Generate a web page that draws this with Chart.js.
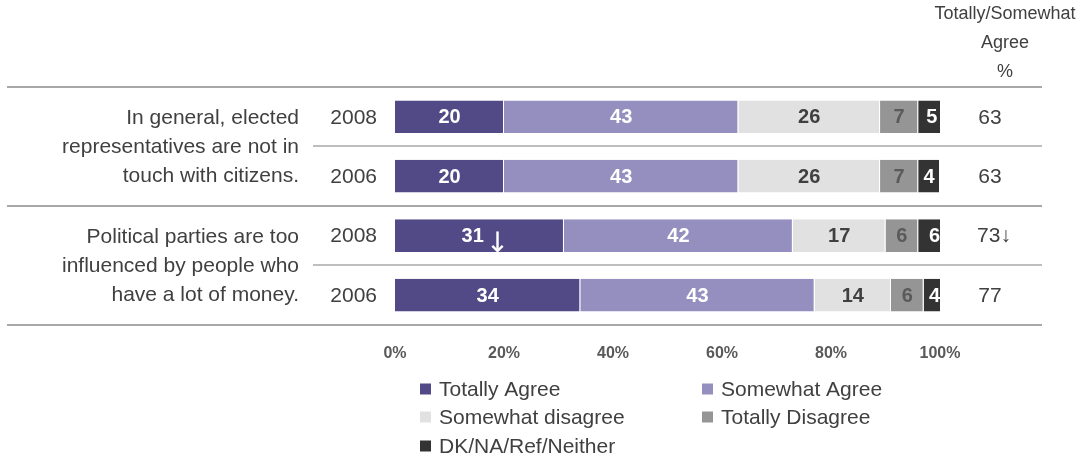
<!DOCTYPE html>
<html>
<head>
<meta charset="utf-8">
<script src="https://cdn.jsdelivr.net/npm/chart.js@4.4.1/dist/chart.umd.min.js"></script>
<style>
  html, body { margin: 0; padding: 0; background: #ffffff; }
  #wrap { width: 1081px; height: 457px; position: relative; }
</style>
</head>
<body>
<div id="wrap"><canvas id="c" width="1081" height="457"></canvas></div>
<script>
// ---------- data ----------
const rowLabels = ["2008", "2006", "2008", "2006"];
const questionLines = [
  ["In general, elected", "representatives are not in", "touch with citizens."],
  ["Political parties are too", "influenced by people who", "have a lot of money."]
];
const seriesNames = ["Totally Agree", "Somewhat Agree", "Somewhat disagree", "Totally Disagree", "DK/NA/Ref/Neither"];
const totallyAgree     = [20, 20, 31, 34];
const somewhatAgree    = [43, 43, 42, 43];
const somewhatDisagree = [26, 26, 17, 14];
const totallyDisagree  = [7, 7, 6, 6];
const dkNaRef          = [5, 4, 6, 4];
const agreeTotals      = [63, 63, 73, 77];
const totalMarks       = ["", "", "↓", ""];
const totallyAgreeMarks = ["", "", "↓", ""];
const tickValues = [0, 20, 40, 60, 80, 100];
const tickLabels = ["0%", "20%", "40%", "60%", "80%", "100%"];
const headerLines = ["Totally/Somewhat", "Agree", "%"];

// ---------- styles ----------
const FONT = '"Liberation Sans", Arial, Helvetica, sans-serif';
const seriesColors = ["#524a86", "#958fbf", "#e1e1e1", "#959595", "#333333"];
const labelColors  = ["#ffffff", "#ffffff", "#404040", "#5a5a5a", "#ffffff"];
const TEXT = "#404040";
const LINE = "#a8a8a8";

const seriesValues = [totallyAgree, somewhatAgree, somewhatDisagree, totallyDisagree, dkNaRef];

const deco = {
  id: "deco",
  afterDatasetsDraw(chart) {
    const ctx = chart.ctx;
    ctx.save();
    ctx.textBaseline = "middle";
    chart.data.datasets.forEach((ds, di) => {
      const meta = chart.getDatasetMeta(di);
      meta.data.forEach((el, i) => {
        const v = ds.data[i];
        const cx = (el.x + el.base) / 2;
        const cy = el.y + 1;
        ctx.fillStyle = labelColors[di];
        ctx.font = "bold 20px " + FONT;
        const mark = di === 0 ? totallyAgreeMarks[i] : "";
        if (!mark) {
          ctx.textAlign = "center";
          ctx.fillText(String(v), cx, cy);
        } else {
          const t = String(v);
          const w1 = ctx.measureText(t).width;
          ctx.font = '28px "DejaVu Sans", ' + FONT;
          const w2 = ctx.measureText(mark).width;
          const gap = 2;
          const start = cx - (w1 + gap + w2) / 2 + 6;
          ctx.textAlign = "left";
          ctx.font = "bold 20px " + FONT;
          ctx.fillText(t, start, cy);
          ctx.font = '28px "DejaVu Sans", ' + FONT;
          ctx.fillText(mark, start + w1 + gap, cy + 8);
        }
      });
    });
    ctx.restore();
  },
  afterDraw(chart) {
    const ctx = chart.ctx;
    const ys = chart.scales.y;
    const area = chart.chartArea;
    const n = rowLabels.length;
    const rowY = rowLabels.map((_, i) => ys.getPixelForValue(i));
    const bounds = [area.top];
    for (let i = 0; i < n - 1; i++) bounds.push((rowY[i] + rowY[i + 1]) / 2);
    bounds.push(area.bottom);

    ctx.save();
    // separator lines
    ctx.strokeStyle = LINE;
    bounds.forEach((b, k) => {
      const inGroup = (k % 2 === 1);
      ctx.lineWidth = inGroup ? 1.5 : 2;
      ctx.beginPath();
      ctx.moveTo(inGroup ? 313 : 7, Math.round(b));
      ctx.lineTo(1042, Math.round(b));
      ctx.stroke();
    });

    // year labels
    ctx.fillStyle = TEXT;
    ctx.textBaseline = "middle";
    ctx.font = "21px " + FONT;
    ctx.textAlign = "right";
    rowLabels.forEach((t, i) => ctx.fillText(t, 377, rowY[i] + 1));

    // question labels
    ctx.font = "21px " + FONT;
    questionLines.forEach((lines, g) => {
      const mid = bounds[2 * g + 1];
      lines.forEach((t, j) => ctx.fillText(t, 299, mid + (j - 1) * 29 + 1));
    });

    // totals column
    ctx.font = "21px " + FONT;
    ctx.textAlign = "center";
    agreeTotals.forEach((v, i) => ctx.fillText(String(v) + totalMarks[i], 990 + (totalMarks[i] ? 4 : 0), rowY[i] + 1));

    // header
    ctx.font = "18px " + FONT;
    headerLines.forEach((t, j) => ctx.fillText(t, 1005, 14 + j * 29));

    // legend
    const legendPos = [[420, 389], [702, 389], [420, 417], [702, 417], [420, 446]];
    ctx.textAlign = "left";
    ctx.font = "21px " + FONT;
    seriesNames.forEach((name, k) => {
      const [lx, ly] = legendPos[k];
      ctx.fillStyle = seriesColors[k];
      ctx.fillRect(lx, ly - 5.5, 11, 11);
      ctx.fillStyle = TEXT;
      ctx.fillText(name, lx + 19, ly + 1);
    });
    ctx.restore();
  }
};

new Chart(document.getElementById("c"), {
  type: "bar",
  data: {
    labels: rowLabels,
    datasets: seriesNames.map((name, k) => ({
      label: name,
      data: seriesValues[k],
      backgroundColor: seriesColors[k],
      borderColor: "#ffffff",
      borderWidth: { top: 0, bottom: 0, left: 0, right: 1 },
      borderSkipped: false,
      barPercentage: 0.55,
      categoryPercentage: 1.0
    }))
  },
  options: {
    indexAxis: "y",
    responsive: false,
    animation: false,
    devicePixelRatio: 1,
    layout: { padding: { left: 395, right: 141, top: 87, bottom: 75 } },
    plugins: { legend: { display: false }, tooltip: { enabled: false } },
    scales: {
      x: {
        stacked: true,
        min: 0,
        max: 100,
        grid: { display: false, drawTicks: false },
        border: { display: false },
        afterBuildTicks: (scale) => { scale.ticks = tickValues.map(v => ({ value: v })); },
        ticks: {
          padding: 19,
          color: "#595959",
          font: { family: FONT, size: 16, weight: "bold" },
          callback: (v) => tickLabels[tickValues.indexOf(v)]
        }
      },
      y: {
        stacked: true,
        display: false
      }
    }
  },
  plugins: [deco]
});
</script>
</body>
</html>
